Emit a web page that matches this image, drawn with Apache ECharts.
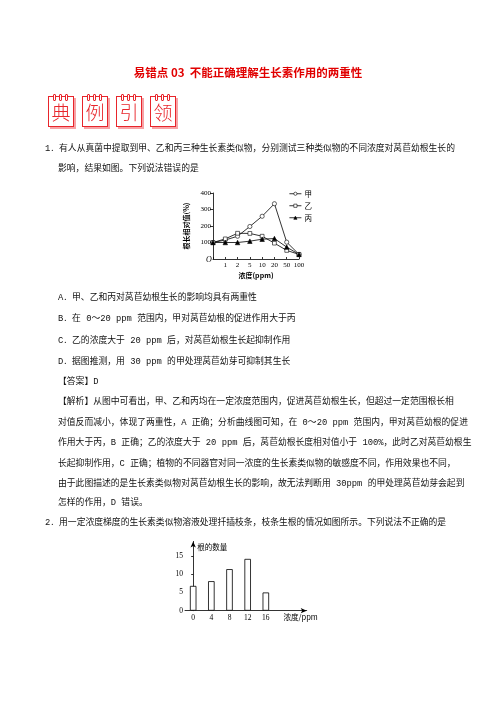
<!DOCTYPE html>
<html>
<head>
<meta charset="utf-8">
<script src="https://cdn.jsdelivr.net/npm/echarts@6/dist/echarts.min.js"></script>
<style>
body{margin:0;background:#fff;}
#page{position:relative;width:496px;height:702px;overflow:hidden;color:#111;
  font-family:"Liberation Mono","Noto Sans CJK SC",monospace;}
#main{position:absolute;left:0;top:0;width:496px;height:702px;z-index:1;}
.ln{position:absolute;font-size:8.8px;line-height:12px;white-space:nowrap;z-index:2;}
.j{text-align:justify;text-align-last:justify;}
.title{position:absolute;left:0;width:496px;top:64px;text-align:center;color:#e10000;font-weight:bold;
  font-size:11.5px;font-family:"Noto Sans CJK SC",sans-serif;z-index:2;}
.box{position:absolute;top:96px;width:24px;height:29px;border:1px solid #e8252b;background:#fff;
  box-shadow:2px 2px 0 #f7a3a6;color:#e8252b;font-size:19px;line-height:29px;text-align:center;
  font-weight:300;font-family:"Noto Sans CJK SC",sans-serif;z-index:2;}
.ring{position:absolute;top:-3px;width:1px;height:5px;border:0.8px solid #e8252b;border-radius:1px;background:#fff;}
</style>
</head>
<body>
<div id="page">
  <div id="main"></div>

  <div class="title">易错点 03&nbsp;&nbsp;不能正确理解生长素作用的两重性</div>

  <div class="box" style="left:48px">典<span class="ring" style="left:4px"></span><span class="ring" style="left:10px"></span><span class="ring" style="left:16px"></span></div>
  <div class="box" style="left:82px">例<span class="ring" style="left:4px"></span><span class="ring" style="left:10px"></span><span class="ring" style="left:16px"></span></div>
  <div class="box" style="left:116px">引<span class="ring" style="left:4px"></span><span class="ring" style="left:10px"></span><span class="ring" style="left:16px"></span></div>
  <div class="box" style="left:150px">领<span class="ring" style="left:4px"></span><span class="ring" style="left:10px"></span><span class="ring" style="left:16px"></span></div>

  <div class="ln j" style="left:45px;top:143px;width:406px">1．有人从真菌中提取到甲、乙和丙三种生长素类似物，分别测试三种类似物的不同浓度对莴苣幼根生长的</div>
  <div class="ln" style="left:58px;top:163px">影响，结果如图。下列说法错误的是</div>

  <div class="ln" style="left:58px;top:292px">A．甲、乙和丙对莴苣幼根生长的影响均具有两重性</div>
  <div class="ln" style="left:58px;top:313px">B．在 0～20 ppm 范围内，甲对莴苣幼根的促进作用大于丙</div>
  <div class="ln" style="left:58px;top:335px">C．乙的浓度大于 20 ppm 后，对莴苣幼根生长起抑制作用</div>
  <div class="ln" style="left:58px;top:356px">D．据图推测，用 30 ppm 的甲处理莴苣幼芽可抑制其生长</div>
  <div class="ln" style="left:58px;top:376px">【答案】D</div>

  <div class="ln j" style="left:58px;top:396px;width:393px">【解析】从图中可看出，甲、乙和丙均在一定浓度范围内，促进莴苣幼根生长，但超过一定范围根长相</div>
  <div class="ln j" style="left:58px;top:417px;width:391px">对值反而减小，体现了两重性，A 正确；分析曲线图可知，在 0～20 ppm 范围内，甲对莴苣幼根的促进</div>
  <div class="ln j" style="left:58px;top:437px;width:389px">作用大于丙，B 正确；乙的浓度大于 20 ppm 后，莴苣幼根长度相对值小于 100%，此时乙对莴苣幼根生</div>
  <div class="ln j" style="left:58px;top:458px;width:385px">长起抑制作用，C 正确；植物的不同器官对同一浓度的生长素类似物的敏感度不同，作用效果也不同，</div>
  <div class="ln j" style="left:58px;top:478px;width:393px">由于此图描述的是生长素类似物对莴苣幼根生长的影响，故无法判断用 30ppm 的甲处理莴苣幼芽会起到</div>
  <div class="ln" style="left:58px;top:497px">怎样的作用，D 错误。</div>

  <div class="ln j" style="left:45px;top:517px;width:398px">2．用一定浓度梯度的生长素类似物溶液处理扦插枝条，枝条生根的情况如图所示。下列说法不正确的是</div>
</div>

<script>
// 图1：三种类似物不同浓度下的根长相对值(%)
const conc1 = ['0', '1', '2', '5', '10', '20', '50', '100'];
const jia = [100, 115, 138, 197, 259, 335, 102, 28];
const yi = [100, 122, 156, 155, 138, 96, 52, 28];
const bing = [100, 100, 100, 108, 120, 124, 72, 28];
const yTicks1 = [100, 200, 300, 400];

// 图2：不同浓度下的根的数量
const conc2 = [0, 4, 8, 12, 16];
const roots = [6.8, 8.1, 11.4, 14.2, 5.0];
const yTicks2 = [0, 5, 10, 15];

const serif = '"Liberation Serif", serif';
const cjk = '"Noto Sans CJK SC", sans-serif';

let myChart = echarts.init(document.getElementById('main'), null, { renderer: 'canvas' });

function lineSeries(name, data, symbol, size, fill) {
  return {
    name: name,
    type: 'line',
    xAxisIndex: 0,
    yAxisIndex: 0,
    data: data,
    symbol: symbol,
    symbolSize: size,
    lineStyle: { color: '#000', width: 0.8 },
    itemStyle: { color: fill, borderColor: '#000', borderWidth: 0.6 },
    emphasis: { disabled: true },
    animation: false
  };
}

// 图例单独给样式，否则图标会被涂黑
function legendItem(name, fill) {
  return {
    name: name,
    itemStyle: { color: fill, borderColor: '#000', borderWidth: 0.6 },
    lineStyle: { color: '#000', width: 0.8 }
  };
}

let option = {
  animation: false,
  grid: [
    { left: 213, top: 193, width: 86, height: 66 },
    { left: 185, top: 541.4, width: 121.7, height: 69.3 }
  ],
  legend: {
    orient: 'vertical',
    left: 284,
    top: 185,
    itemWidth: 12,
    itemHeight: 4,
    itemGap: 4.5,
    textStyle: { fontFamily: cjk, fontSize: 7.5, color: '#000', padding: [0, 0, 0, -2] },
    data: [legendItem('甲', '#fff'), legendItem('乙', '#fff'), legendItem('丙', '#000')]
  },
  xAxis: [
    {
      type: 'category',
      gridIndex: 0,
      data: conc1,
      boundaryGap: false,
      axisLine: { lineStyle: { color: '#000', width: 0.8 } },
      axisTick: { inside: true, length: 2, lineStyle: { color: '#000', width: 0.8 } },
      axisLabel: {
        color: '#000', fontFamily: serif, fontSize: 7, margin: 3, interval: 0,
        formatter: v => (v === '0' ? '' : v)
      },
      name: '浓度(ppm)',
      nameLocation: 'middle',
      nameGap: 13,
      nameTextStyle: { fontFamily: cjk, fontSize: 7, color: '#000', fontWeight: 'bold' }
    },
    {
      type: 'value',
      gridIndex: 1,
      min: -1.8,
      max: 25,
      axisLine: {
        lineStyle: { color: '#000', width: 0.8 },
        symbol: ['none', 'arrow'],
        symbolSize: [4, 6]
      },
      axisTick: { show: false },
      splitLine: { show: false },
      axisLabel: {
        color: '#000', fontFamily: serif, fontSize: 7.5, margin: 3,
        customValues: conc2
      },
      name: '浓度/ppm',
      nameLocation: 'end',
      nameGap: -6,
      nameTextStyle: {
        fontFamily: cjk, fontSize: 7.5, color: '#000',
        align: 'center', verticalAlign: 'top', padding: [3, 0, 0, 0]
      }
    }
  ],
  yAxis: [
    {
      type: 'value',
      gridIndex: 0,
      min: 0,
      max: 400,
      interval: 100,
      axisLine: { show: true, lineStyle: { color: '#000', width: 0.8 } },
      axisTick: { show: true, length: 3, lineStyle: { color: '#000', width: 0.8 },
        customValues: yTicks1 },
      splitLine: { show: false },
      axisLabel: { color: '#000', fontFamily: serif, fontSize: 7, margin: 2,
        customValues: yTicks1 },
      name: '根长相对值(%)',
      nameLocation: 'middle',
      nameRotate: 90,
      nameGap: 23,
      nameTextStyle: { fontFamily: cjk, fontSize: 7, color: '#000', fontWeight: 'bold' }
    },
    {
      type: 'value',
      gridIndex: 1,
      min: 0,
      max: 19,
      axisLine: {
        show: true,
        lineStyle: { color: '#000', width: 0.8 },
        symbol: ['none', 'arrow'],
        symbolSize: [4, 6]
      },
      axisTick: { show: true, length: 2, lineStyle: { color: '#000', width: 0.8 },
        customValues: yTicks2 },
      splitLine: { show: false },
      axisLabel: { color: '#000', fontFamily: serif, fontSize: 7.5, margin: 2,
        customValues: yTicks2 },
      name: '根的数量',
      nameLocation: 'end',
      nameGap: -6,
      nameTextStyle: {
        fontFamily: cjk, fontSize: 7.5, color: '#000',
        align: 'left', verticalAlign: 'middle', padding: [0, 0, 0, 4]
      }
    }
  ],
  graphic: [
    {
      type: 'text',
      left: 206,
      top: 256,
      style: { text: 'O', font: 'italic 8px "Liberation Serif"', fill: '#000' }
    }
  ],
  series: [
    lineSeries('甲', jia, 'circle', 4.2, '#fff'),
    lineSeries('乙', yi, 'rect', 3.8, '#fff'),
    lineSeries('丙', bing, 'triangle', 4.5, '#000'),
    {
      type: 'bar',
      xAxisIndex: 1,
      yAxisIndex: 1,
      data: conc2.map((c, i) => [c, roots[i]]),
      barWidth: 6.5,
      itemStyle: { color: '#fff', borderColor: '#000', borderWidth: 0.8 },
      emphasis: { disabled: true }
    }
  ]
};

myChart.setOption(option);
</script>
</body>
</html>
